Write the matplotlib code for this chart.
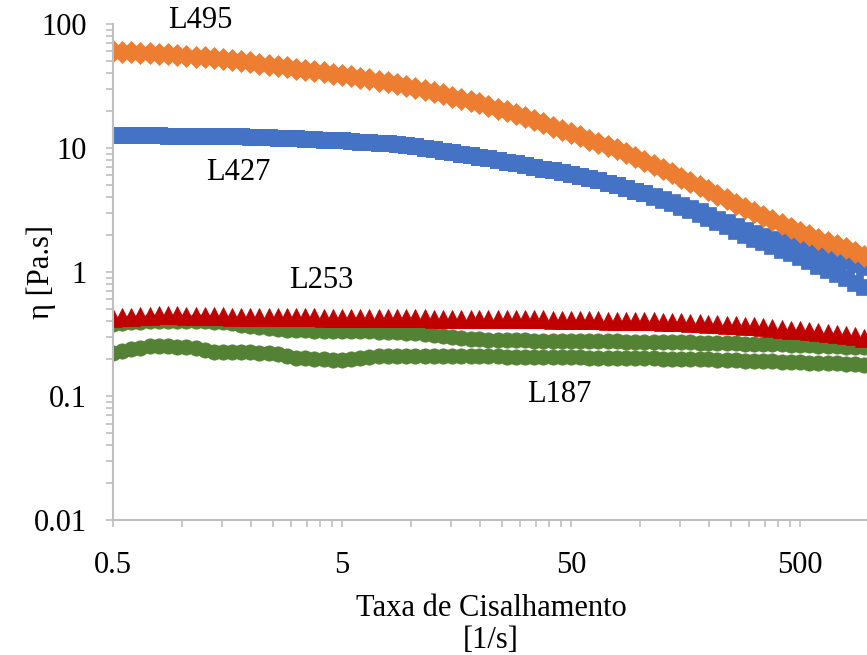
import matplotlib
matplotlib.use("Agg")
import matplotlib.pyplot as plt
from matplotlib.ticker import FixedLocator, FuncFormatter, LogLocator, NullFormatter

plt.rcParams['font.family'] = ['Liberation Serif', 'DejaVu Serif']

# taxa de cisalhamento [1/s]
shear = [0.500, 0.548, 0.601, 0.659, 0.723, 0.792, 0.869, 0.953, 1.04, 1.15,
         1.26, 1.38, 1.51, 1.66, 1.82, 1.99, 2.18, 2.39, 2.62, 2.88,
         3.15, 3.46, 3.79, 4.16, 4.56,
         5.00, 5.48, 6.01, 6.59, 7.23, 7.92, 8.69, 9.53, 10.4, 11.5,
         12.6, 13.8, 15.1, 16.6, 18.2, 19.9, 21.8, 23.9, 26.2, 28.8,
         31.5, 34.6, 37.9, 41.6, 45.6,
         50.0, 54.8, 60.1, 65.9, 72.3, 79.2, 86.9, 95.3, 104, 115,
         126, 138, 151, 166, 182, 199, 218, 239, 262, 288,
         315, 346, 379, 416, 456,
         500, 548, 601, 659, 723, 792, 869, 953]

# viscosidade [Pa.s]
L495 = [60.3, 59.7, 59.2, 58.6, 58.1, 57.5,
        56.8, 56.0, 55.2, 54.5, 53.7,
        52.7, 51.8, 50.8, 49.9, 49.0,
        47.9, 46.8, 45.7, 44.7, 43.7,
        42.7, 41.7, 40.7, 39.8, 38.9,
        37.8, 36.8, 35.8, 34.8, 33.9,
        32.7, 31.5, 30.3, 29.2, 28.2,
        27.0, 25.9, 24.9, 23.9, 22.9,
        21.8, 20.7, 19.7, 18.7, 17.8,
        16.7, 15.8, 14.9, 14.0, 13.2,
        12.4, 11.7, 11.0, 10.4, 9.77,
        9.08, 8.43, 7.83, 7.28, 6.76,
        6.25, 5.78, 5.35, 4.94, 4.57,
        4.21, 3.87, 3.56, 3.28, 3.02,
        2.81, 2.61, 2.42, 2.25, 2.09,
        1.97, 1.85, 1.75, 1.64, 1.55,
        1.45, 1.35]

L427_a = [12.7, 12.7, 12.7, 12.7, 12.7, 12.7, 12.6, 12.6, 12.6, 12.6, 12.6,
          12.5, 12.5, 12.4, 12.4, 12.3, 12.2, 12.2, 12.1, 12.1, 12.0,
          11.9, 11.8, 11.7, 11.6, 11.5, 11.4, 11.2, 11.1, 11.0, 10.9, 10.8,
          10.6, 10.3, 10.0, 9.77, 9.53, 9.29,
          9.02, 8.77, 8.51, 8.28, 8.04,
          7.78, 7.53, 7.28, 7.05, 6.82, 6.61,
          6.37, 6.14, 5.92, 5.70, 5.50,
          5.24, 4.99, 4.75, 4.53, 4.32,
          4.08, 3.86, 3.65, 3.45, 3.27, 3.09,
          2.88, 2.69, 2.51, 2.34, 2.19,
          2.07, 1.96, 1.86, 1.77, 1.67, 1.58,
          1.50, 1.43, 1.35, 1.29, 1.22, 1.16, 1.10]

L427_b = [12.7, 12.7, 12.7, 12.7, 12.7, 12.7, 12.6, 12.6, 12.6, 12.6, 12.6,
          12.5, 12.5, 12.4, 12.4, 12.3, 12.2, 12.2, 12.1, 12.1, 12.0,
          11.9, 11.8, 11.7, 11.6, 11.5, 11.4, 11.2, 11.1, 11.0, 10.9, 10.8,
          10.6, 10.3, 10.0, 9.77, 9.53, 9.29,
          9.02, 8.77, 8.51, 8.28, 8.04,
          7.78, 7.53, 7.28, 7.05, 6.82, 6.61,
          6.37, 6.14, 5.92, 5.70, 5.50,
          5.24, 4.99, 4.75, 4.53, 4.32,
          4.06, 3.80, 3.57, 3.35, 3.15, 2.95,
          2.73, 2.52, 2.33, 2.16, 2.00,
          1.86, 1.74, 1.62, 1.51, 1.41, 1.32,
          1.22, 1.12, 1.04, 0.962, 0.889, 0.820, 0.759]

L253 = [0.425, 0.430, 0.436, 0.441, 0.444, 0.446, 0.447, 0.446, 0.444, 0.443,
        0.441, 0.440, 0.439, 0.437, 0.436, 0.435, 0.434, 0.433, 0.432, 0.432,
        0.431, 0.430, 0.430, 0.429, 0.428, 0.428, 0.427, 0.426, 0.426, 0.425,
        0.424, 0.424, 0.423, 0.423, 0.422, 0.421, 0.421, 0.420, 0.420, 0.419,
        0.418, 0.418, 0.417, 0.416, 0.416, 0.415, 0.414, 0.414, 0.413, 0.412,
        0.411, 0.410, 0.409, 0.407, 0.406, 0.405, 0.403, 0.402, 0.400, 0.399,
        0.397, 0.395, 0.392, 0.390, 0.387, 0.384, 0.381, 0.377, 0.373, 0.369,
        0.364, 0.359, 0.354, 0.349, 0.343, 0.338, 0.332, 0.326, 0.320, 0.314,
        0.308, 0.302, 0.296]

L187_a = [0.380, 0.386, 0.392, 0.397, 0.400, 0.403, 0.405, 0.406, 0.406, 0.405,
          0.402, 0.398, 0.392, 0.385, 0.377, 0.369, 0.361, 0.354, 0.348, 0.343,
          0.340, 0.338, 0.337, 0.336, 0.335, 0.334, 0.333, 0.333, 0.332, 0.331,
          0.330, 0.328, 0.325, 0.321, 0.316, 0.310, 0.304, 0.298, 0.293, 0.289,
          0.286, 0.284, 0.283, 0.282, 0.281, 0.281, 0.280, 0.280, 0.279, 0.279,
          0.278, 0.278, 0.277, 0.277, 0.276, 0.276, 0.275, 0.275, 0.274, 0.274,
          0.273, 0.272, 0.272, 0.271, 0.270, 0.269, 0.268, 0.267, 0.266, 0.265,
          0.264, 0.263, 0.262, 0.261, 0.259, 0.258, 0.256, 0.255, 0.253, 0.252,
          0.250, 0.249, 0.247]

L187_b = [0.222, 0.230, 0.238, 0.245, 0.251, 0.252, 0.251, 0.249, 0.247, 0.245,
          0.236, 0.227, 0.226, 0.226, 0.225, 0.225, 0.224, 0.224, 0.218, 0.211,
          0.204, 0.202, 0.200, 0.198, 0.196, 0.195, 0.197, 0.201, 0.205, 0.209,
          0.210, 0.210, 0.210, 0.210, 0.210, 0.210, 0.210, 0.209, 0.209, 0.209,
          0.209, 0.209, 0.209, 0.208, 0.208, 0.208, 0.207, 0.207, 0.206, 0.206,
          0.205, 0.205, 0.204, 0.204, 0.203, 0.203, 0.202, 0.202, 0.201, 0.201,
          0.200, 0.200, 0.199, 0.199, 0.198, 0.197, 0.196, 0.195, 0.194, 0.193,
          0.192, 0.191, 0.190, 0.189, 0.188, 0.187, 0.186, 0.185, 0.184, 0.183,
          0.181, 0.180, 0.178]

# rotulos das amostras
labels = ["L495", "L427", "L253", "L187"]
label_pos = [(1.2, 107), (1.76, 6.4), (4.08, 0.86), (44.3, 0.102)]

x_ticks = [0.5, 5, 50, 500]
y_ticks = [0.01, 0.1, 1, 10, 100]

fig = plt.figure(figsize=(8.67, 6.55), dpi=100)
ax = fig.add_axes([0.1303, 0.2061, 0.872, 0.7573])

green = "#548235"
red = "#C00000"
blue = "#4472C4"
orange = "#ED7D31"

ax.plot(shear, L187_b, "o", color=green, ms=11, mec=green, mew=0.5)
ax.plot(shear, L187_a, "o", color=green, ms=11, mec=green, mew=0.5)
ax.plot(shear, L253, "^", color=red, ms=13, mec=red, mew=0.5)
ax.plot(shear, L427_b, "s", color=blue, ms=11.5, mec=blue, mew=0.5)
ax.plot(shear, L427_a, "s", color=blue, ms=11.5, mec=blue, mew=0.5)
ax.plot(shear, L495, "D", color=orange, ms=11, mec=orange, mew=0.5)

ax.set_xscale("log")
ax.set_yscale("log")
ax.set_xlim(0.5, 1000)
ax.set_ylim(0.01, 100)

fmt = FuncFormatter(lambda v, p: "{:g}".format(v))
ax.xaxis.set_major_locator(FixedLocator(x_ticks))
ax.xaxis.set_major_formatter(fmt)
# escala de Excel: subdivisoes a partir de 0.5
ax.xaxis.set_minor_locator(FixedLocator([0.5 * k * 10 ** n for n in range(4) for k in range(2, 10)]))
ax.xaxis.set_minor_formatter(NullFormatter())
ax.yaxis.set_major_locator(FixedLocator(y_ticks))
ax.yaxis.set_major_formatter(fmt)
ax.yaxis.set_minor_locator(LogLocator(base=10, subs=range(2, 10)))
ax.yaxis.set_minor_formatter(NullFormatter())

for s in ["top", "right"]:
    ax.spines[s].set_visible(False)
for s in ["left", "bottom"]:
    ax.spines[s].set_color("#BFBFBF")
    ax.spines[s].set_linewidth(1.5)

ax.tick_params(which="both", direction="out", color="#BFBFBF", length=5, width=1.2, labelsize=22)
ax.tick_params(axis="x", which="major", pad=17)
ax.tick_params(axis="y", which="major", pad=14)

ax.set_xlabel("Taxa de Cisalhamento\n[1/s]", fontsize=22, linespacing=1.1)
ax.xaxis.set_label_coords(0.5, -0.15)
ax.set_ylabel("η [Pa.s]", fontsize=22)
ax.yaxis.set_label_coords(-0.075, 0.5)

for t, (x, y) in zip(labels, label_pos):
    ax.text(x, y, t, fontsize=22, ha="center", va="center", clip_on=False)

fig.savefig("out.png", dpi=100)
